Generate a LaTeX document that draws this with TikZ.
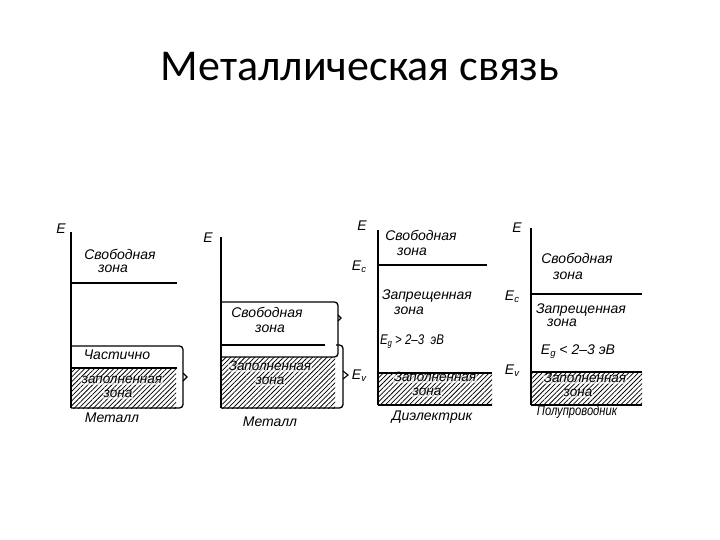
\documentclass[tikz,border=0pt]{standalone}
\usepackage{fontspec}
\setmainfont{Liberation Sans}
\newfontfamily\titlefont{Carlito}
\usetikzlibrary{patterns.meta}
\newcommand{\sbs}[1]{\raisebox{-2pt}{\fontsize{9.5}{9.5}\selectfont #1}}
\begin{document}
\begin{tikzpicture}[x=1pt,y=-1pt,
  axis/.style={line width=1.6pt},
  lvl/.style={line width=1.3pt},
  thicklvl/.style={line width=2.4pt},
  bracepath/.style={line width=1.3pt,rounded corners=3.5pt},
  tippath/.style={line width=1.1pt},
  hatch/.style={pattern={Lines[angle=45,distance=3.4pt,line width=0.75pt]}},
  lab/.style={font=\fontsize{14}{14}\selectfont\itshape,inner sep=0pt,text height=7pt,text depth=2pt},
  hlab/.style={lab,font=\fontsize{13.5}{13.5}\selectfont\itshape,fill=white,fill opacity=0.6,text opacity=1,inner xsep=0.5pt,text height=6.5pt,text depth=1pt}]
\useasboundingbox (0,0) rectangle (720,540);
\fill[white] (0,0) rectangle (720,540);
\node[font=\titlefont\fontsize{44}{44}\selectfont,inner sep=0pt] (title) at (360,67) {Металлическая связь};
% ---------- panel 1
\fill[hatch] (71,368) rectangle (176,408);
\node[lab] (e1) at (61,231) {E};
\draw[axis] (71,232) -- (71,408);
\draw[lvl] (71,283) -- (177,283);
\draw[bracepath] (71,346) -- (183,346) -- (183,408) -- (71,408);
\draw[tippath] (183,373) -- (187,377) -- (183,381);
\draw[lvl] (71,368) -- (177,368);
\node[lab] (s1a) at (120,257) {Свободная};
\node[lab] (s1b) at (113,270) {зона};
\node[lab] (c1) at (117,357) {Частично};
\node[hlab] (f1a) at (122,381) {заполненная};
\node[hlab] (f1b) at (118,395) {зона};
\node[lab] (m1) at (112,420) {Металл};
% ---------- panel 2
\fill[hatch] (221,357) rectangle (335,408);
\node[lab] (e2) at (208,240) {E};
\draw[axis] (221,237) -- (221,408);
\draw[bracepath] (221,302) -- (338,302) -- (338,357) -- (221,357);
\draw[tippath] (338,315) -- (341,318) -- (338,321);
\draw[lvl] (221,345) -- (325,345);
\draw[bracepath] (336,345) -- (343,345) -- (343,408) -- (221,408);
\draw[tippath] (343,371) -- (348,375) -- (343,379);
\node[lab] (s2a) at (267,315) {Свободная};
\node[lab] (s2b) at (270,330) {зона};
\node[hlab] (f2a) at (270,368) {Заполненная};
\node[hlab] (f2b) at (270,382) {зона};
\node[lab] (m2) at (270,424) {Металл};
% ---------- panel 3
\fill[hatch] (378,373) rectangle (492,405);
\node[lab] (e3) at (362,228) {E};
\node[lab] (ec3) at (359,268) {E\sbs{c}};
\node[lab] (ev3) at (359,377) {E\sbs{v}};
\draw[axis] (378,230) -- (378,405);
\draw[thicklvl] (378,265) -- (487,265);
\draw[lvl] (378,373) -- (492,373);
\draw[lvl] (378,405) -- (492,405);
\node[lab] (s3a) at (421,238) {Свободная};
\node[lab] (s3b) at (412,253) {зона};
\node[lab] (z3a) at (427,297) {Запрещенная};
\node[lab] (z3b) at (409,312) {зона};
\node[lab] (g3) at (412,342) {\scalebox{0.82}[1]{E\sbs{g} > 2–3 \ эВ}};
\node[hlab] (f3a) at (435,379) {Заполненная};
\node[hlab] (f3b) at (427,393) {зона};
\node[lab] (d3) at (432,418) {Диэлектрик};
% ---------- panel 4
\fill[hatch] (531,372) rectangle (642,405);
\node[lab] (e4) at (517,230) {E};
\node[lab] (ec4) at (512,298) {E\sbs{c}};
\node[lab] (ev4) at (512,372) {E\sbs{v}};
\draw[axis] (531,228) -- (531,405);
\draw[lvl] (531,294) -- (642,294);
\draw[lvl] (531,372) -- (642,372);
\draw[lvl] (531,405) -- (642,405);
\node[lab] (s4a) at (577,261) {Свободная};
\node[lab] (s4b) at (568,277) {зона};
\node[lab] (z4a) at (581,311) {Запрещенная};
\node[lab] (z4b) at (562,324) {зона};
\node[lab] (g4) at (578,352) {E\sbs{g} < 2–3 эВ};
\node[hlab] (f4a) at (585,380) {Заполненная};
\node[hlab] (f4b) at (578,394) {зона};
\node[lab] (p4) at (577,413) {\scalebox{0.8}[1]{Полупроводник}};
\end{tikzpicture}
\end{document}
